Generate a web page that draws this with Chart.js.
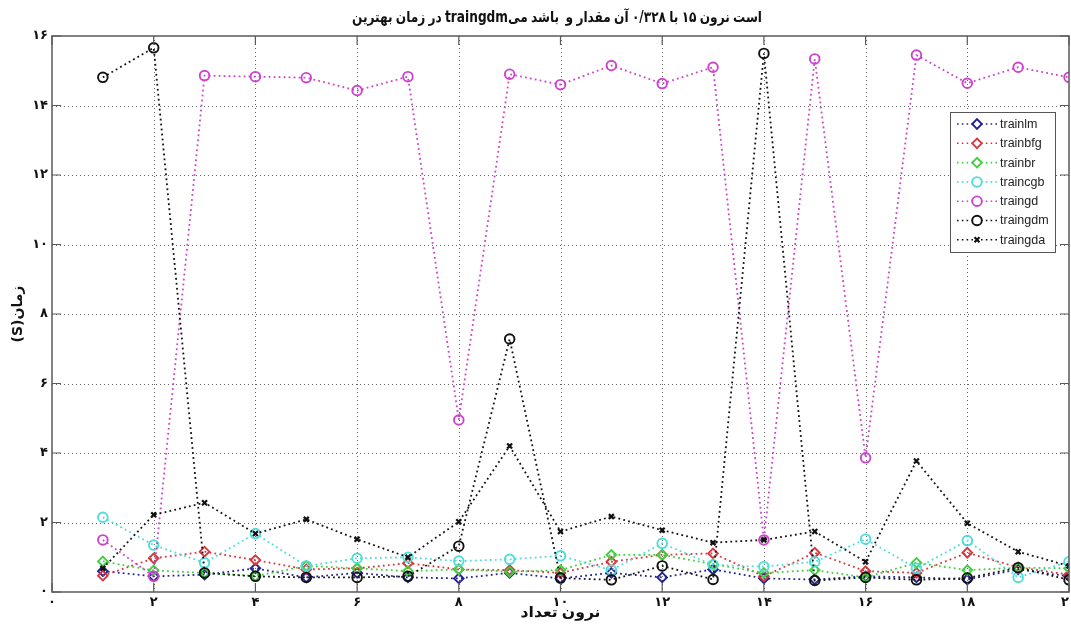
<!DOCTYPE html>
<html><head><meta charset="utf-8">
<script src="https://cdn.jsdelivr.net/npm/chart.js@4.4.1/dist/chart.umd.min.js"></script>
<style>html,body{margin:0;padding:0;background:#fff;}#wrap{width:1071px;height:624px;}</style>
</head><body><div id="wrap"><canvas id="c" width="1071" height="624"></canvas></div>
<script>
const neurons  = [1,2,3,4,5,6,7,8,9,10,11,12,13,14,15,16,17,18,19,20];
const trainlm  = [0.60,0.45,0.50,0.68,0.42,0.55,0.42,0.39,0.55,0.39,0.55,0.42,0.65,0.39,0.36,0.45,0.42,0.36,0.65,0.45];
const trainbfg = [0.47,0.97,1.16,0.92,0.65,0.68,0.83,0.65,0.63,0.55,0.87,1.07,1.11,0.45,1.13,0.60,0.55,1.13,0.71,0.50];
const trainbr  = [0.88,0.62,0.55,0.46,0.75,0.68,0.60,0.65,0.58,0.63,1.07,1.07,0.80,0.55,0.63,0.42,0.84,0.63,0.70,0.68];
const traincgb = [2.15,1.35,0.84,1.68,0.75,0.97,1.00,0.89,0.94,1.04,0.63,1.40,0.78,0.73,0.87,1.52,0.68,1.48,0.42,0.87];
const traingd  = [1.50,0.45,14.86,14.83,14.80,14.43,14.83,4.95,14.90,14.60,15.15,14.63,15.10,1.50,15.34,3.86,15.45,14.64,15.10,14.81];
const traingdm = [14.81,15.66,0.55,0.45,0.42,0.42,0.45,1.32,7.28,0.40,0.35,0.75,0.36,15.50,0.33,0.42,0.35,0.40,0.70,0.35];
const traingda = [0.68,2.22,2.57,1.68,2.09,1.52,1.00,2.02,4.20,1.74,2.17,1.78,1.42,1.50,1.74,0.87,3.77,1.98,1.16,0.75];
const seriesNames = ['trainlm','trainbfg','trainbr','traincgb','traingd','traingdm','traingda'];
const xTickLabels = ['۰','۲','۴','۶','۸','۱۰','۱۲','۱۴','۱۶','۱۸','۲۰'];
const yTickLabels = ['۰','۲','۴','۶','۸','۱۰','۱۲','۱۴','۱۶'];
// words in the order they appear left to right in the picture
const titleWords = ['بهترین','زمان','در','traingdm\u200Eمی','باشد','','و','مقدار','آن','۰/۳۲۸','با','۱۵','نرون','است'];
const xTitleWords = ['تعداد','نرون'];
const yTitle = 'زمان(S)';

const allSeries = [trainlm,trainbfg,trainbr,traincgb,traingd,traingdm,traingda];
const colors = ['#23238f','#d8373f','#3fd03f','#4fdcdc','#cc44cc','#111111','#111111'];
const styles = ['rectRot','rectRot','rectRot','circle','circle','circle','crossRot'];
const radii  = [4.8,4.8,4.8,4.8,4.8,4.8,3.5];

const datasets = allSeries.map((vals,i)=>({
  label: seriesNames[i],
  data: neurons.map((x,j)=>({x:x,y:vals[j]})),
  borderColor: colors[i],
  borderWidth: 1.8,
  borderDash: [1.8,3.2],
  pointStyle: styles[i],
  pointRadius: radii[i],
  pointBorderWidth: i===6?2.2:1.9,
  pointBorderColor: colors[i],
  pointBackgroundColor: 'rgba(255,255,255,0)',
  tension: 0,
  fill: false,
  order: 7-i
}));

function drawWords(ctx, words, cx, cy, font, targetW, gap){
  ctx.font = font;
  ctx.textAlign='left'; ctx.textBaseline='middle'; ctx.direction='ltr';
  const ws = words.map(w=>w?ctx.measureText(w).width:0);
  const total = ws.reduce((s,v)=>s+v,0) + gap*(words.length-1);
  const sx = targetW ? targetW/total : 1;
  ctx.save();
  ctx.translate(cx - total*sx/2, cy); ctx.scale(sx,1);
  let x=0;
  words.forEach((w,i)=>{ if(w) ctx.fillText(w, x, 0); x += ws[i] + gap; });
  ctx.restore();
}

const framePlugin = {
  id:'frame',
  beforeDatasetsDraw(chart){
    const {ctx, chartArea:a, scales:{x,y}} = chart;
    ctx.save();
    ctx.strokeStyle='rgba(0,0,0,0.6)'; ctx.lineWidth=1; ctx.setLineDash([1,3]);
    for(let v=2; v<20; v+=2){ const px=Math.round(x.getPixelForValue(v))+0.5; ctx.beginPath(); ctx.moveTo(px,a.top); ctx.lineTo(px,a.bottom); ctx.stroke(); }
    for(let v=2; v<16; v+=2){ const py=Math.round(y.getPixelForValue(v))+0.5; ctx.beginPath(); ctx.moveTo(a.left,py); ctx.lineTo(a.right,py); ctx.stroke(); }
    ctx.restore();
  },
  afterDatasetsDraw(chart){
    const {ctx, chartArea:a, scales:{x,y}} = chart;
    ctx.save();
    ctx.setLineDash([]);
    ctx.strokeStyle='#5a5a5a'; ctx.lineWidth=1.5;
    ctx.strokeRect(a.left, a.top, a.right-a.left, a.bottom-a.top);
    ctx.lineWidth=1.2;
    const tl=9;
    for(let v=0; v<=20; v+=2){ const px=x.getPixelForValue(v); ctx.beginPath(); ctx.moveTo(px,a.bottom); ctx.lineTo(px,a.bottom-tl); ctx.moveTo(px,a.top); ctx.lineTo(px,a.top+tl); ctx.stroke(); }
    for(let v=0; v<=16; v+=2){ const py=y.getPixelForValue(v); ctx.beginPath(); ctx.moveTo(a.left,py); ctx.lineTo(a.left+tl,py); ctx.moveTo(a.right,py); ctx.lineTo(a.right-tl,py); ctx.stroke(); }
    // legend
    const lx=950, ly=112, lw=105, lh=140;
    ctx.fillStyle='#fff'; ctx.fillRect(lx,ly,lw,lh);
    ctx.strokeStyle='#555'; ctx.lineWidth=1; ctx.strokeRect(lx+0.5,ly+0.5,lw,lh);
    chart.data.datasets.forEach((ds,i)=>{
      const yy = ly+12+i*19.3;
      ctx.save();
      ctx.strokeStyle=ds.borderColor; ctx.lineWidth=1.6; ctx.setLineDash([1.6,3.2]);
      ctx.beginPath(); ctx.moveTo(957,yy); ctx.lineTo(998,yy); ctx.stroke();
      ctx.setLineDash([]);
      ctx.strokeStyle=ds.pointBorderColor; ctx.fillStyle='#fff'; ctx.lineWidth=ds.pointBorderWidth;
      Chart.helpers.drawPoint(ctx,{pointStyle:ds.pointStyle,radius:ds.pointRadius,rotation:0,borderWidth:ds.pointBorderWidth},977,yy);
      ctx.restore();
      ctx.fillStyle='#222'; ctx.font='12.5px "Liberation Sans", Arial, sans-serif'; ctx.textBaseline='middle'; ctx.textAlign='left';
      ctx.fillText(ds.label, 1000, yy+0.5);
    });
    ctx.restore();
  },
  afterDraw(chart){
    const {ctx, chartArea:a} = chart;
    const cx=(a.left+a.right)/2;
    ctx.save();
    ctx.fillStyle='#111';
    drawWords(ctx, titleWords, 557, 18, 'bold 15px "DejaVu Sans", sans-serif', 410, 4);
    drawWords(ctx, xTitleWords, cx, 613, 'bold 15px "DejaVu Sans", sans-serif', 80, 4);
    ctx.translate(18,(a.top+a.bottom)/2); ctx.rotate(-Math.PI/2);
    ctx.direction='rtl';
    ctx.font='bold 14px "DejaVu Sans", sans-serif';
    ctx.textAlign='center'; ctx.textBaseline='middle';
    const w = ctx.measureText(yTitle).width;
    ctx.scale(Math.min(1,62/w),1);
    ctx.fillText(yTitle,0,0);
    ctx.restore();
  }
};

new Chart(document.getElementById('c'),{
  type:'line',
  data:{datasets},
  options:{
    responsive:false, animation:false, devicePixelRatio:1,
    layout:{autoPadding:false, padding:{top:36,right:2,left:0,bottom:0}},
    plugins:{legend:{display:false},title:{display:false},tooltip:{enabled:false}},
    scales:{
      x:{type:'linear',min:0,max:20,
        grid:{display:false,drawTicks:false},border:{display:false},
        afterFit(s){s.height=32; s.paddingLeft=0; s.paddingRight=0;},
        afterBuildTicks(s){s.ticks=xTickLabels.map((_,i)=>({value:i*2}));},
        ticks:{padding:3,color:'#111',maxRotation:0,autoSkip:false,font:{family:'"DejaVu Sans"',size:13,weight:'bold'},
          callback:(v)=>xTickLabels[Math.round(v/2)]}},
      y:{min:0,max:16,
        grid:{display:false,drawTicks:false},border:{display:false},
        afterFit(s){s.width=52; s.paddingTop=0; s.paddingBottom=0;},
        afterBuildTicks(s){s.ticks=yTickLabels.map((_,i)=>({value:i*2}));},
        ticks:{padding:4,color:'#111',autoSkip:false,font:{family:'"DejaVu Sans"',size:13,weight:'bold'},
          callback:(v)=>yTickLabels[Math.round(v/2)]}}
    }
  },
  plugins:[framePlugin]
});
</script></body></html>
